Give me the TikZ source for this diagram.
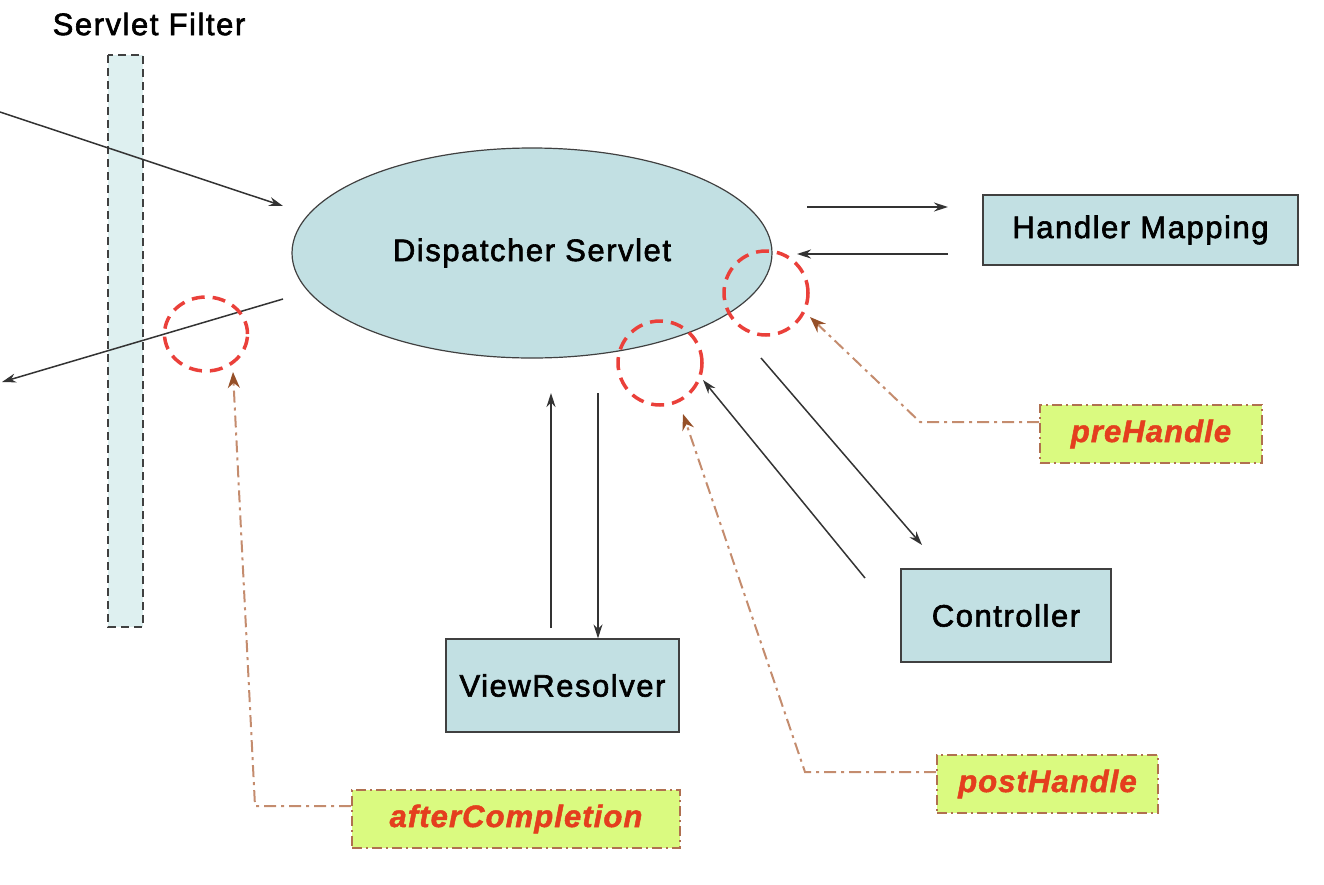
\documentclass[tikz,border=0pt]{standalone}
\usepackage{fontspec}
\setmainfont{Liberation Sans}
\newfontfamily\diagfont[FakeBold=2,LetterSpace=5]{Liberation Sans}
\newfontfamily\hookfont[FakeBold=1.5,LetterSpace=3.5]{Liberation Sans}
\usetikzlibrary{arrows.meta,shapes.geometric}
\definecolor{boxfill}{RGB}{194,224,227}
\definecolor{barfill}{RGB}{222,240,240}
\definecolor{limefill}{RGB}{218,250,128}
\definecolor{lblred}{RGB}{228,62,30}
\definecolor{hookbrown}{RGB}{176,112,80}
\definecolor{hookline}{RGB}{196,140,110}
\definecolor{tipbrown}{RGB}{150,80,40}
\definecolor{ringred}{RGB}{234,64,58}
\begin{document}
\begin{tikzpicture}[x=1pt,y=-1pt,
  comp/.style={draw=black!75, fill=boxfill, line width=1.2pt, inner sep=0pt,
    font=\diagfont\fontsize{31}{38}\selectfont},
  hooklbl/.style={draw=hookbrown, fill=limefill, line width=2pt,
    dash pattern=on 10pt off 4pt on 2pt off 4pt, inner sep=0pt,
    minimum height=58pt, text=lblred,
    font=\hookfont\fontsize{31}{38}\selectfont\bfseries\itshape},
  flow/.style={draw=black!80, line width=1.5pt, -{Stealth[length=14pt,width=9pt]}},
  hookarrow/.style={draw=hookline, line width=2pt,
    dash pattern=on 12pt off 5pt on 3pt off 5pt,
    -{Stealth[length=16pt,width=12pt,color=tipbrown]}},
  ringmark/.style={draw=ringred, line width=3.5pt, dash pattern=on 13pt off 8pt},
  barbox/.style={draw=black!75, fill=barfill, line width=2pt, dash pattern=on 8pt off 5pt}
]
\useasboundingbox (0,0) rectangle (1324,884);

% Servlet filter bar
\node[font=\diagfont\fontsize{31}{38}\selectfont] (sftitle) at (149,24) {Servlet Filter};
\draw[barbox] (108,55) rectangle (143,627);

% main components
\node[comp, ellipse, minimum width=480pt, minimum height=210pt] (ds) at (532,253) {Dispatcher Servlet};
\node[comp, minimum width=315pt, minimum height=70pt] (hm) at (1140.5,230) {Handler Mapping};
\node[comp, minimum width=210pt, minimum height=93pt] (ctl) at (1006,615.5) {Controller};
\node[comp, minimum width=233pt, minimum height=93pt] (vr) at (562.5,685.5) {ViewResolver};

% flow arrow end points
\coordinate (inA) at (0,112);   \coordinate (inB) at (283,206);
\coordinate (outA) at (283,299); \coordinate (outB) at (2,382);
\coordinate (hmA) at (807,207); \coordinate (hmB) at (948,207);
\coordinate (hmC) at (948,254); \coordinate (hmD) at (797,254);
\coordinate (ctA) at (761,358); \coordinate (ctB) at (922,545);
\coordinate (ctC) at (865,578); \coordinate (ctD) at (703,380);
\coordinate (vrA) at (551,628); \coordinate (vrB) at (551,393);
\coordinate (vrC) at (598,393);

\draw[flow] (inA) -- (inB);
\draw[flow] (outA) -- (outB);
\draw[flow] (hmA) -- (hmB);
\draw[flow] (hmC) -- (hmD);
\draw[flow] (ctA) -- (ctB);
\draw[flow] (ctC) -- (ctD);
\draw[flow] (vrA) -- (vrB);
\draw[flow] (vrC) -- (vr.north -| vrC);

% interceptor rings
\node[ringmark, circle, minimum size=84pt, inner sep=0pt] (r1) at (766,293) {};
\node[ringmark, circle, minimum size=84pt, inner sep=0pt] (r2) at (660,363) {};
\node[ringmark, ellipse, minimum width=83pt, minimum height=74pt, inner sep=0pt] (r3) at (206,334) {};

% labels
\node[hooklbl, minimum width=222pt] (pre) at (1151,434) {preHandle};
\node[hooklbl, minimum width=221pt] (post) at (1047.5,784) {postHandle};
\node[hooklbl, minimum width=328pt] (after) at (516,819) {afterCompletion};

% hook connectors
\coordinate (preBend) at (920,422);  \coordinate (preTip) at (810,317);
\coordinate (postBend) at (805,772); \coordinate (postTip) at (683,414);
\coordinate (aftBend) at (255,806);  \coordinate (aftTip) at (233,372);

\draw[hookarrow] (pre.west |- preBend) -- (preBend) -- (preTip);
\draw[hookarrow] (post.west |- postBend) -- (postBend) -- (postTip);
\draw[hookarrow] (after.west |- aftBend) -- (aftBend) -- (aftTip);
\end{tikzpicture}
\end{document}
